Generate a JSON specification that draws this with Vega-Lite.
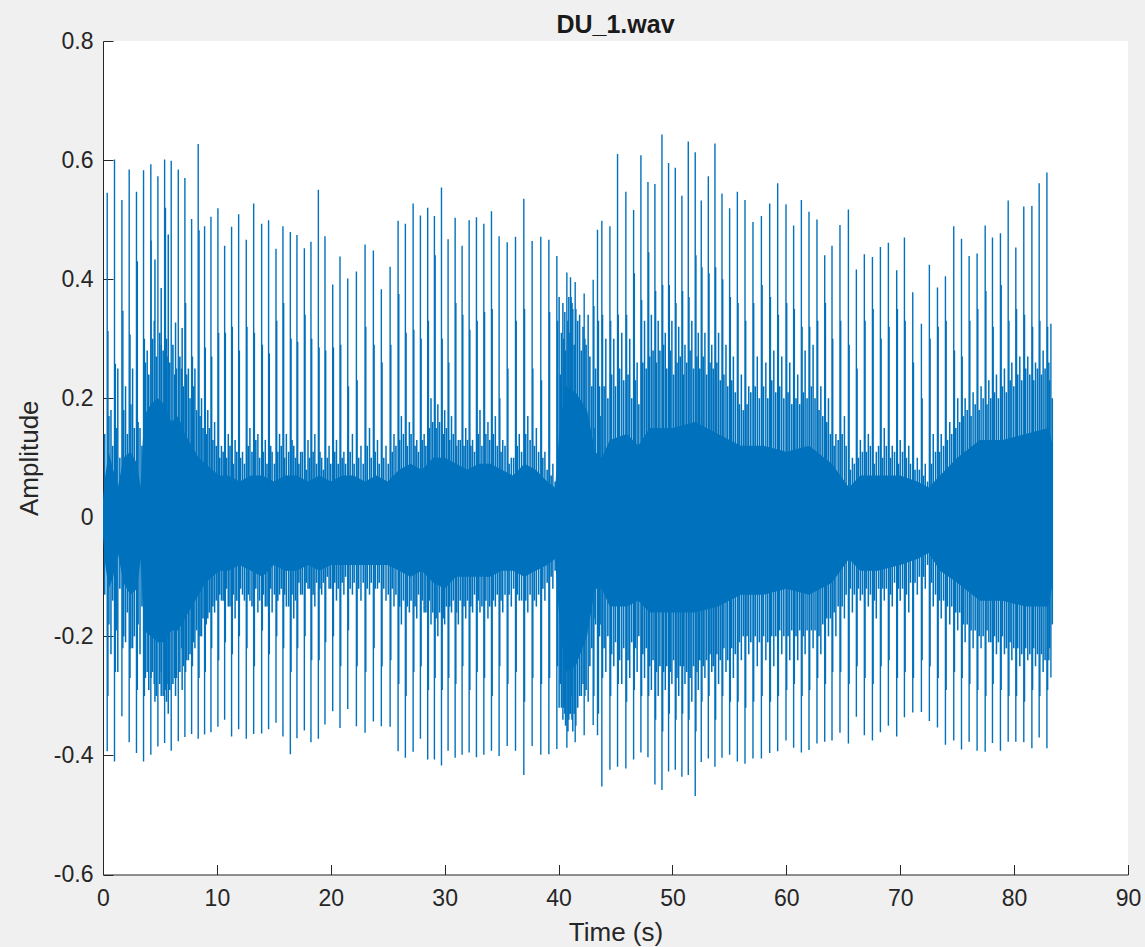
{"$schema":"https://vega.github.io/schema/vega-lite/v6.json","width":1025,"height":833.5,"autosize":"none","padding":{"left":103,"top":41,"right":17,"bottom":72.5},"background":"#f0f0f0","title":{"text":"DU_1.wav","font":"Liberation Sans","fontSize":25,"fontWeight":"bold","color":"#1a1a1a","anchor":"middle","offset":-8},"view":{"fill":"white","stroke":null},"config":{"axis":{"domainColor":"#262626","tickColor":"#262626","labelColor":"#262626","titleColor":"#262626","labelFont":"Liberation Sans","titleFont":"Liberation Sans","labelFontSize":23,"titleFontSize":26,"titleFontWeight":"normal","grid":false,"tickSize":-10,"domainWidth":1,"tickWidth":1,"labelFlush":false}},"datasets":{"beats":[{"t":0.37,"hi":0.545,"lo":-0.393},{"t":1.01,"hi":0.601,"lo":-0.41},{"t":1.66,"hi":0.533,"lo":-0.334},{"t":2.3,"hi":0.584,"lo":-0.378},{"t":2.94,"hi":0.547,"lo":-0.396},{"t":3.56,"hi":0.583,"lo":-0.41},{"t":4.2,"hi":0.593,"lo":-0.399},{"t":4.82,"hi":0.573,"lo":-0.385},{"t":5.41,"hi":0.601,"lo":-0.379},{"t":5.99,"hi":0.599,"lo":-0.392},{"t":6.61,"hi":0.584,"lo":-0.376},{"t":7.19,"hi":0.57,"lo":-0.369},{"t":7.78,"hi":0.501,"lo":-0.364},{"t":8.36,"hi":0.627,"lo":-0.372},{"t":8.92,"hi":0.489,"lo":-0.365},{"t":9.48,"hi":0.505,"lo":-0.361},{"t":10.09,"hi":0.519,"lo":-0.352},{"t":10.68,"hi":0.456,"lo":-0.34},{"t":11.29,"hi":0.488,"lo":-0.368},{"t":11.91,"hi":0.509,"lo":-0.356},{"t":12.58,"hi":0.466,"lo":-0.372},{"t":13.23,"hi":0.527,"lo":-0.364},{"t":13.93,"hi":0.493,"lo":-0.363},{"t":14.54,"hi":0.499,"lo":-0.356},{"t":15.19,"hi":0.451,"lo":-0.345},{"t":15.8,"hi":0.489,"lo":-0.368},{"t":16.45,"hi":0.479,"lo":-0.398},{"t":17.03,"hi":0.474,"lo":-0.371},{"t":17.68,"hi":0.452,"lo":-0.358},{"t":18.26,"hi":0.463,"lo":-0.378},{"t":18.91,"hi":0.55,"lo":-0.372},{"t":19.49,"hi":0.472,"lo":-0.348},{"t":20.17,"hi":0.391,"lo":-0.326},{"t":20.81,"hi":0.438,"lo":-0.354},{"t":21.49,"hi":0.401,"lo":-0.322},{"t":22.25,"hi":0.413,"lo":-0.351},{"t":23.01,"hi":0.458,"lo":-0.362},{"t":23.74,"hi":0.448,"lo":-0.343},{"t":24.44,"hi":0.383,"lo":-0.351},{"t":25.21,"hi":0.421,"lo":-0.352},{"t":25.91,"hi":0.498,"lo":-0.393},{"t":26.55,"hi":0.493,"lo":-0.404},{"t":27.23,"hi":0.527,"lo":-0.394},{"t":27.87,"hi":0.507,"lo":-0.372},{"t":28.51,"hi":0.52,"lo":-0.407},{"t":29.1,"hi":0.506,"lo":-0.407},{"t":29.72,"hi":0.554,"lo":-0.417},{"t":30.3,"hi":0.467,"lo":-0.392},{"t":30.92,"hi":0.503,"lo":-0.404},{"t":31.53,"hi":0.456,"lo":-0.399},{"t":32.15,"hi":0.499,"lo":-0.395},{"t":32.79,"hi":0.504,"lo":-0.403},{"t":33.44,"hi":0.493,"lo":-0.399},{"t":34.11,"hi":0.514,"lo":-0.392},{"t":34.78,"hi":0.472,"lo":-0.401},{"t":35.49,"hi":0.462,"lo":-0.384},{"t":36.22,"hi":0.471,"lo":-0.392},{"t":36.95,"hi":0.535,"lo":-0.433},{"t":37.68,"hi":0.464,"lo":-0.384},{"t":38.44,"hi":0.471,"lo":-0.399},{"t":39.15,"hi":0.466,"lo":-0.398},{"t":39.85,"hi":0.439,"lo":-0.389},{"t":40.73,"hi":0.411,"lo":-0.387},{"t":41.05,"hi":0.403,"lo":-0.33},{"t":41.46,"hi":0.395,"lo":-0.378},{"t":42.25,"hi":0.376,"lo":-0.366},{"t":43.04,"hi":0.399,"lo":-0.349},{"t":43.42,"hi":0.483,"lo":-0.366},{"t":43.8,"hi":0.498,"lo":-0.452},{"t":44.51,"hi":0.489,"lo":-0.424},{"t":45.18,"hi":0.61,"lo":-0.419},{"t":45.91,"hi":0.547,"lo":-0.422},{"t":46.59,"hi":0.516,"lo":-0.407},{"t":47.23,"hi":0.608,"lo":-0.395},{"t":47.85,"hi":0.563,"lo":-0.403},{"t":48.46,"hi":0.56,"lo":-0.449},{"t":49.08,"hi":0.643,"lo":-0.458},{"t":49.66,"hi":0.595,"lo":-0.427},{"t":50.25,"hi":0.587,"lo":-0.424},{"t":50.83,"hi":0.54,"lo":-0.436},{"t":51.39,"hi":0.631,"lo":-0.433},{"t":52.0,"hi":0.613,"lo":-0.468},{"t":52.53,"hi":0.532,"lo":-0.411},{"t":53.15,"hi":0.573,"lo":-0.405},{"t":53.73,"hi":0.628,"lo":-0.419},{"t":54.35,"hi":0.544,"lo":-0.404},{"t":55.02,"hi":0.519,"lo":-0.399},{"t":55.7,"hi":0.547,"lo":-0.41},{"t":56.37,"hi":0.533,"lo":-0.414},{"t":57.07,"hi":0.496,"lo":-0.405},{"t":57.81,"hi":0.506,"lo":-0.405},{"t":58.54,"hi":0.527,"lo":-0.396},{"t":59.24,"hi":0.561,"lo":-0.393},{"t":59.97,"hi":0.526,"lo":-0.375},{"t":60.64,"hi":0.49,"lo":-0.387},{"t":61.32,"hi":0.533,"lo":-0.395},{"t":61.99,"hi":0.513,"lo":-0.391},{"t":62.69,"hi":0.5,"lo":-0.38},{"t":63.37,"hi":0.44,"lo":-0.377},{"t":64.01,"hi":0.456,"lo":-0.375},{"t":64.71,"hi":0.491,"lo":-0.362},{"t":65.45,"hi":0.517,"lo":-0.38},{"t":66.15,"hi":0.416,"lo":-0.335},{"t":66.85,"hi":0.442,"lo":-0.366},{"t":67.56,"hi":0.437,"lo":-0.375},{"t":68.26,"hi":0.454,"lo":-0.361},{"t":68.96,"hi":0.461,"lo":-0.35},{"t":69.69,"hi":0.415,"lo":-0.368},{"t":70.37,"hi":0.47,"lo":-0.336},{"t":71.1,"hi":0.378,"lo":-0.328},{"t":71.86,"hi":0.325,"lo":-0.327},{"t":72.56,"hi":0.424,"lo":-0.342},{"t":73.27,"hi":0.386,"lo":-0.353},{"t":73.97,"hi":0.405,"lo":-0.382},{"t":74.7,"hi":0.489,"lo":-0.375},{"t":75.38,"hi":0.468,"lo":-0.39},{"t":76.05,"hi":0.439,"lo":-0.377},{"t":76.75,"hi":0.443,"lo":-0.392},{"t":77.46,"hi":0.49,"lo":-0.394},{"t":78.1,"hi":0.47,"lo":-0.379},{"t":78.8,"hi":0.477,"lo":-0.392},{"t":79.48,"hi":0.532,"lo":-0.377},{"t":80.15,"hi":0.453,"lo":-0.377},{"t":80.85,"hi":0.522,"lo":-0.378},{"t":81.56,"hi":0.523,"lo":-0.388},{"t":82.2,"hi":0.561,"lo":-0.37},{"t":82.88,"hi":0.579,"lo":-0.388},{"t":83.23,"hi":0.325,"lo":-0.269}],"second":[{"t":0.43,"hi":0.313,"lo":-0.3},{"t":1.08,"hi":0.258,"lo":-0.26},{"t":1.74,"hi":0.347,"lo":-0.22},{"t":2.37,"hi":0.307,"lo":-0.27},{"t":3.01,"hi":0.43,"lo":-0.29},{"t":3.63,"hi":0.3,"lo":-0.3},{"t":4.22,"hi":0.465,"lo":-0.27},{"t":4.56,"hi":0.433,"lo":-0.31},{"t":5.11,"hi":0.385,"lo":-0.3},{"t":5.48,"hi":0.52,"lo":-0.29},{"t":5.73,"hi":0.475,"lo":-0.33},{"t":6.37,"hi":0.327,"lo":-0.3},{"t":6.95,"hi":0.318,"lo":-0.29},{"t":7.25,"hi":0.36,"lo":-0.26},{"t":7.85,"hi":0.27,"lo":-0.25},{"t":8.43,"hi":0.482,"lo":-0.27},{"t":8.98,"hi":0.285,"lo":-0.26},{"t":9.54,"hi":0.27,"lo":-0.22},{"t":10.15,"hi":0.31,"lo":-0.24},{"t":10.74,"hi":0.31,"lo":-0.21},{"t":11.35,"hi":0.32,"lo":-0.23},{"t":11.97,"hi":0.28,"lo":-0.2},{"t":12.64,"hi":0.32,"lo":-0.22},{"t":13.29,"hi":0.31,"lo":-0.25},{"t":13.99,"hi":0.29,"lo":-0.19},{"t":14.6,"hi":0.275,"lo":-0.23},{"t":15.25,"hi":0.33,"lo":-0.2},{"t":15.86,"hi":0.36,"lo":-0.22},{"t":16.51,"hi":0.3,"lo":-0.26},{"t":17.09,"hi":0.295,"lo":-0.22},{"t":17.74,"hi":0.34,"lo":-0.2},{"t":18.32,"hi":0.3,"lo":-0.24},{"t":18.97,"hi":0.285,"lo":-0.24},{"t":19.55,"hi":0.28,"lo":-0.21},{"t":20.23,"hi":0.285,"lo":-0.2},{"t":20.87,"hi":0.29,"lo":-0.25},{"t":21.55,"hi":0.22,"lo":-0.19},{"t":22.31,"hi":0.23,"lo":-0.25},{"t":23.07,"hi":0.32,"lo":-0.26},{"t":23.8,"hi":0.29,"lo":-0.22},{"t":24.5,"hi":0.26,"lo":-0.25},{"t":25.27,"hi":0.29,"lo":-0.24},{"t":25.97,"hi":0.375,"lo":-0.28},{"t":26.61,"hi":0.31,"lo":-0.3},{"t":27.29,"hi":0.315,"lo":-0.26},{"t":27.93,"hi":0.3,"lo":-0.25},{"t":28.57,"hi":0.33,"lo":-0.29},{"t":29.16,"hi":0.44,"lo":-0.27},{"t":29.78,"hi":0.3,"lo":-0.29},{"t":30.36,"hi":0.26,"lo":-0.27},{"t":30.98,"hi":0.36,"lo":-0.28},{"t":31.59,"hi":0.34,"lo":-0.25},{"t":32.21,"hi":0.315,"lo":-0.29},{"t":32.85,"hi":0.33,"lo":-0.26},{"t":33.5,"hi":0.345,"lo":-0.27},{"t":34.17,"hi":0.35,"lo":-0.3},{"t":34.84,"hi":0.2,"lo":-0.25},{"t":35.55,"hi":0.25,"lo":-0.28},{"t":36.28,"hi":0.33,"lo":-0.26},{"t":37.01,"hi":0.35,"lo":-0.31},{"t":37.74,"hi":0.25,"lo":-0.27},{"t":38.5,"hi":0.23,"lo":-0.28},{"t":39.21,"hi":0.345,"lo":-0.27},{"t":39.91,"hi":0.33,"lo":-0.25},{"t":40.05,"hi":0.37,"lo":-0.32},{"t":40.38,"hi":0.36,"lo":-0.34},{"t":41.1,"hi":0.37,"lo":-0.3},{"t":41.52,"hi":0.35,"lo":-0.35},{"t":42.31,"hi":0.3,"lo":-0.3},{"t":43.1,"hi":0.355,"lo":-0.3},{"t":43.5,"hi":0.33,"lo":-0.33},{"t":43.86,"hi":0.34,"lo":-0.27},{"t":44.57,"hi":0.33,"lo":-0.3},{"t":45.24,"hi":0.34,"lo":-0.28},{"t":45.97,"hi":0.34,"lo":-0.31},{"t":46.65,"hi":0.41,"lo":-0.29},{"t":47.29,"hi":0.365,"lo":-0.3},{"t":47.91,"hi":0.445,"lo":-0.3},{"t":48.52,"hi":0.38,"lo":-0.34},{"t":49.14,"hi":0.39,"lo":-0.36},{"t":49.72,"hi":0.39,"lo":-0.33},{"t":50.31,"hi":0.36,"lo":-0.34},{"t":50.89,"hi":0.38,"lo":-0.33},{"t":51.45,"hi":0.37,"lo":-0.34},{"t":52.06,"hi":0.44,"lo":-0.36},{"t":52.59,"hi":0.42,"lo":-0.31},{"t":53.21,"hi":0.41,"lo":-0.3},{"t":53.79,"hi":0.42,"lo":-0.34},{"t":54.41,"hi":0.4,"lo":-0.3},{"t":55.08,"hi":0.37,"lo":-0.31},{"t":55.76,"hi":0.36,"lo":-0.31},{"t":56.43,"hi":0.33,"lo":-0.32},{"t":57.13,"hi":0.36,"lo":-0.31},{"t":57.87,"hi":0.39,"lo":-0.3},{"t":58.6,"hi":0.37,"lo":-0.31},{"t":59.3,"hi":0.34,"lo":-0.3},{"t":60.03,"hi":0.36,"lo":-0.29},{"t":60.7,"hi":0.35,"lo":-0.28},{"t":61.38,"hi":0.32,"lo":-0.3},{"t":62.05,"hi":0.32,"lo":-0.29},{"t":62.75,"hi":0.33,"lo":-0.27},{"t":63.43,"hi":0.36,"lo":-0.28},{"t":64.07,"hi":0.3,"lo":-0.26},{"t":64.77,"hi":0.33,"lo":-0.26},{"t":65.51,"hi":0.29,"lo":-0.28},{"t":66.21,"hi":0.25,"lo":-0.25},{"t":66.91,"hi":0.33,"lo":-0.27},{"t":67.62,"hi":0.35,"lo":-0.28},{"t":68.32,"hi":0.3,"lo":-0.25},{"t":69.02,"hi":0.32,"lo":-0.24},{"t":69.75,"hi":0.35,"lo":-0.27},{"t":70.43,"hi":0.33,"lo":-0.26},{"t":71.16,"hi":0.26,"lo":-0.27},{"t":71.92,"hi":0.2,"lo":-0.24},{"t":72.62,"hi":0.3,"lo":-0.25},{"t":73.33,"hi":0.32,"lo":-0.27},{"t":74.03,"hi":0.33,"lo":-0.29},{"t":74.76,"hi":0.28,"lo":-0.26},{"t":75.44,"hi":0.27,"lo":-0.27},{"t":76.11,"hi":0.33,"lo":-0.28},{"t":76.81,"hi":0.35,"lo":-0.29},{"t":77.52,"hi":0.38,"lo":-0.3},{"t":78.16,"hi":0.32,"lo":-0.28},{"t":78.86,"hi":0.39,"lo":-0.29},{"t":79.54,"hi":0.33,"lo":-0.3},{"t":80.21,"hi":0.35,"lo":-0.3},{"t":80.91,"hi":0.34,"lo":-0.31},{"t":81.62,"hi":0.32,"lo":-0.29},{"t":82.26,"hi":0.33,"lo":-0.3},{"t":82.94,"hi":0.32,"lo":-0.29}],"mid":[{"t":0.7,"hi":0.18,"lo":-0.23},{"t":1.3,"hi":0.25,"lo":-0.26},{"t":1.98,"hi":0.22,"lo":-0.21},{"t":2.6,"hi":0.25,"lo":-0.22},{"t":3.25,"hi":0.15,"lo":-0.23},{"t":3.88,"hi":0.28,"lo":-0.26},{"t":4.5,"hi":0.33,"lo":-0.28},{"t":5.12,"hi":0.29,"lo":-0.26},{"t":5.7,"hi":0.27,"lo":-0.28},{"t":6.3,"hi":0.24,"lo":-0.27},{"t":6.9,"hi":0.25,"lo":-0.22},{"t":7.5,"hi":0.25,"lo":-0.24},{"t":8.07,"hi":0.25,"lo":-0.22},{"t":8.65,"hi":0.2,"lo":-0.2},{"t":9.2,"hi":0.18,"lo":-0.17},{"t":9.8,"hi":0.16,"lo":-0.16},{"t":10.4,"hi":0.12,"lo":-0.14},{"t":11.0,"hi":0.14,"lo":-0.15},{"t":11.6,"hi":0.13,"lo":-0.17},{"t":12.25,"hi":0.11,"lo":-0.13},{"t":12.9,"hi":0.15,"lo":-0.14},{"t":13.6,"hi":0.14,"lo":-0.16},{"t":14.25,"hi":0.13,"lo":-0.15},{"t":14.85,"hi":0.11,"lo":-0.16},{"t":15.5,"hi":0.14,"lo":-0.13},{"t":16.1,"hi":0.14,"lo":-0.15},{"t":16.75,"hi":0.12,"lo":-0.17},{"t":17.35,"hi":0.11,"lo":-0.13},{"t":18.0,"hi":0.13,"lo":-0.12},{"t":18.6,"hi":0.14,"lo":-0.15},{"t":19.2,"hi":0.1,"lo":-0.13},{"t":19.85,"hi":0.12,"lo":-0.12},{"t":20.5,"hi":0.13,"lo":-0.14},{"t":21.15,"hi":0.11,"lo":-0.13},{"t":21.9,"hi":0.14,"lo":-0.13},{"t":22.65,"hi":0.12,"lo":-0.14},{"t":23.4,"hi":0.15,"lo":-0.13},{"t":24.1,"hi":0.13,"lo":-0.12},{"t":24.85,"hi":0.12,"lo":-0.14},{"t":25.55,"hi":0.14,"lo":-0.15},{"t":26.2,"hi":0.17,"lo":-0.18},{"t":26.9,"hi":0.16,"lo":-0.16},{"t":27.55,"hi":0.13,"lo":-0.17},{"t":28.2,"hi":0.14,"lo":-0.16},{"t":28.8,"hi":0.2,"lo":-0.18},{"t":29.4,"hi":0.19,"lo":-0.2},{"t":30.0,"hi":0.18,"lo":-0.18},{"t":30.6,"hi":0.17,"lo":-0.16},{"t":31.2,"hi":0.13,"lo":-0.18},{"t":31.85,"hi":0.15,"lo":-0.17},{"t":32.45,"hi":0.13,"lo":-0.16},{"t":33.1,"hi":0.18,"lo":-0.16},{"t":33.8,"hi":0.16,"lo":-0.17},{"t":34.45,"hi":0.17,"lo":-0.15},{"t":35.1,"hi":0.13,"lo":-0.16},{"t":35.85,"hi":0.1,"lo":-0.15},{"t":36.55,"hi":0.14,"lo":-0.14},{"t":37.3,"hi":0.17,"lo":-0.16},{"t":38.05,"hi":0.15,"lo":-0.15},{"t":38.8,"hi":0.11,"lo":-0.14},{"t":39.5,"hi":0.09,"lo":-0.12},{"t":40.25,"hi":0.31,"lo":-0.32},{"t":40.55,"hi":0.345,"lo":-0.33},{"t":40.9,"hi":0.37,"lo":-0.34},{"t":41.25,"hi":0.35,"lo":-0.36},{"t":41.85,"hi":0.34,"lo":-0.3},{"t":42.6,"hi":0.34,"lo":-0.31},{"t":43.25,"hi":0.25,"lo":-0.18},{"t":43.6,"hi":0.22,"lo":-0.2},{"t":44.15,"hi":0.3,"lo":-0.26},{"t":44.85,"hi":0.3,"lo":-0.25},{"t":45.55,"hi":0.31,"lo":-0.28},{"t":46.25,"hi":0.3,"lo":-0.27},{"t":46.9,"hi":0.26,"lo":-0.26},{"t":47.55,"hi":0.33,"lo":-0.27},{"t":48.15,"hi":0.34,"lo":-0.29},{"t":48.75,"hi":0.33,"lo":-0.3},{"t":49.37,"hi":0.31,"lo":-0.29},{"t":49.95,"hi":0.33,"lo":-0.28},{"t":50.55,"hi":0.32,"lo":-0.3},{"t":51.1,"hi":0.29,"lo":-0.28},{"t":51.7,"hi":0.33,"lo":-0.31},{"t":52.27,"hi":0.31,"lo":-0.29},{"t":52.85,"hi":0.31,"lo":-0.27},{"t":53.45,"hi":0.29,"lo":-0.26},{"t":54.05,"hi":0.31,"lo":-0.28},{"t":54.7,"hi":0.29,"lo":-0.26},{"t":55.35,"hi":0.27,"lo":-0.27},{"t":56.05,"hi":0.24,"lo":-0.24},{"t":56.7,"hi":0.22,"lo":-0.23},{"t":57.45,"hi":0.27,"lo":-0.25},{"t":58.2,"hi":0.26,"lo":-0.24},{"t":58.9,"hi":0.28,"lo":-0.25},{"t":59.6,"hi":0.27,"lo":-0.23},{"t":60.3,"hi":0.26,"lo":-0.24},{"t":61.0,"hi":0.24,"lo":-0.24},{"t":61.65,"hi":0.28,"lo":-0.23},{"t":62.35,"hi":0.29,"lo":-0.22},{"t":63.03,"hi":0.22,"lo":-0.23},{"t":63.7,"hi":0.2,"lo":-0.2},{"t":64.35,"hi":0.14,"lo":-0.2},{"t":65.1,"hi":0.17,"lo":-0.17},{"t":65.8,"hi":0.1,"lo":-0.16},{"t":66.5,"hi":0.13,"lo":-0.14},{"t":67.2,"hi":0.14,"lo":-0.15},{"t":67.9,"hi":0.11,"lo":-0.17},{"t":68.6,"hi":0.15,"lo":-0.14},{"t":69.3,"hi":0.12,"lo":-0.15},{"t":70.0,"hi":0.13,"lo":-0.14},{"t":70.75,"hi":0.12,"lo":-0.16},{"t":71.5,"hi":0.1,"lo":-0.13},{"t":72.2,"hi":0.09,"lo":-0.12},{"t":72.9,"hi":0.14,"lo":-0.15},{"t":73.6,"hi":0.14,"lo":-0.17},{"t":74.35,"hi":0.16,"lo":-0.18},{"t":75.05,"hi":0.2,"lo":-0.19},{"t":75.7,"hi":0.2,"lo":-0.21},{"t":76.4,"hi":0.21,"lo":-0.22},{"t":77.1,"hi":0.22,"lo":-0.22},{"t":77.78,"hi":0.23,"lo":-0.21},{"t":78.45,"hi":0.24,"lo":-0.23},{"t":79.15,"hi":0.25,"lo":-0.23},{"t":79.8,"hi":0.26,"lo":-0.24},{"t":80.5,"hi":0.27,"lo":-0.25},{"t":81.2,"hi":0.27,"lo":-0.24},{"t":81.88,"hi":0.26,"lo":-0.25},{"t":82.55,"hi":0.28,"lo":-0.26},{"t":83.05,"hi":0.26,"lo":-0.24}],"teeth":[{"t":0.15,"hi":0.14,"lo":-0.13},{"t":0.52,"hi":0.17,"lo":-0.18},{"t":0.85,"hi":0.12,"lo":-0.14},{"t":1.17,"hi":0.15,"lo":-0.19},{"t":1.48,"hi":0.1,"lo":-0.12},{"t":1.82,"hi":0.18,"lo":-0.2},{"t":2.14,"hi":0.14,"lo":-0.16},{"t":2.45,"hi":0.19,"lo":-0.22},{"t":2.75,"hi":0.15,"lo":-0.2},{"t":3.08,"hi":0.16,"lo":-0.18},{"t":3.42,"hi":0.12,"lo":-0.15},{"t":3.72,"hi":0.26,"lo":-0.27},{"t":4.02,"hi":0.24,"lo":-0.29},{"t":4.35,"hi":0.3,"lo":-0.26},{"t":4.68,"hi":0.27,"lo":-0.3},{"t":4.98,"hi":0.31,"lo":-0.28},{"t":5.28,"hi":0.28,"lo":-0.3},{"t":5.58,"hi":0.3,"lo":-0.31},{"t":5.86,"hi":0.26,"lo":-0.29},{"t":6.14,"hi":0.29,"lo":-0.28},{"t":6.45,"hi":0.25,"lo":-0.27},{"t":6.75,"hi":0.27,"lo":-0.26},{"t":7.05,"hi":0.22,"lo":-0.25},{"t":7.35,"hi":0.24,"lo":-0.24},{"t":7.64,"hi":0.2,"lo":-0.23},{"t":7.95,"hi":0.22,"lo":-0.21},{"t":8.22,"hi":0.18,"lo":-0.19},{"t":8.52,"hi":0.17,"lo":-0.2},{"t":8.78,"hi":0.15,"lo":-0.17},{"t":9.06,"hi":0.14,"lo":-0.18},{"t":9.34,"hi":0.15,"lo":-0.16},{"t":9.65,"hi":0.13,"lo":-0.15},{"t":9.95,"hi":0.12,"lo":-0.14},{"t":10.25,"hi":0.1,"lo":-0.13},{"t":10.55,"hi":0.11,"lo":-0.14},{"t":10.85,"hi":0.1,"lo":-0.12},{"t":11.15,"hi":0.12,"lo":-0.15},{"t":11.45,"hi":0.09,"lo":-0.13},{"t":11.75,"hi":0.11,"lo":-0.14},{"t":12.08,"hi":0.1,"lo":-0.12},{"t":12.42,"hi":0.09,"lo":-0.14},{"t":12.75,"hi":0.12,"lo":-0.13},{"t":13.08,"hi":0.11,"lo":-0.15},{"t":13.42,"hi":0.13,"lo":-0.12},{"t":13.75,"hi":0.1,"lo":-0.14},{"t":14.08,"hi":0.11,"lo":-0.13},{"t":14.4,"hi":0.09,"lo":-0.15},{"t":14.72,"hi":0.12,"lo":-0.12},{"t":15.05,"hi":0.09,"lo":-0.13},{"t":15.35,"hi":0.11,"lo":-0.14},{"t":15.65,"hi":0.12,"lo":-0.12},{"t":15.95,"hi":0.1,"lo":-0.13},{"t":16.3,"hi":0.11,"lo":-0.15},{"t":16.6,"hi":0.13,"lo":-0.13},{"t":16.9,"hi":0.1,"lo":-0.14},{"t":17.2,"hi":0.09,"lo":-0.11},{"t":17.5,"hi":0.11,"lo":-0.13},{"t":17.85,"hi":0.08,"lo":-0.11},{"t":18.13,"hi":0.1,"lo":-0.12},{"t":18.45,"hi":0.11,"lo":-0.13},{"t":18.75,"hi":0.09,"lo":-0.11},{"t":19.05,"hi":0.11,"lo":-0.12},{"t":19.35,"hi":0.08,"lo":-0.11},{"t":19.7,"hi":0.1,"lo":-0.1},{"t":20.0,"hi":0.09,"lo":-0.12},{"t":20.35,"hi":0.11,"lo":-0.11},{"t":20.65,"hi":0.09,"lo":-0.12},{"t":21.0,"hi":0.1,"lo":-0.11},{"t":21.3,"hi":0.09,"lo":-0.1},{"t":21.7,"hi":0.11,"lo":-0.12},{"t":22.05,"hi":0.09,"lo":-0.11},{"t":22.45,"hi":0.1,"lo":-0.12},{"t":22.85,"hi":0.09,"lo":-0.11},{"t":23.2,"hi":0.12,"lo":-0.12},{"t":23.55,"hi":0.1,"lo":-0.11},{"t":23.9,"hi":0.11,"lo":-0.12},{"t":24.25,"hi":0.09,"lo":-0.11},{"t":24.65,"hi":0.1,"lo":-0.12},{"t":25.05,"hi":0.09,"lo":-0.13},{"t":25.4,"hi":0.11,"lo":-0.12},{"t":25.72,"hi":0.12,"lo":-0.13},{"t":26.05,"hi":0.13,"lo":-0.15},{"t":26.38,"hi":0.14,"lo":-0.14},{"t":26.72,"hi":0.12,"lo":-0.15},{"t":27.05,"hi":0.14,"lo":-0.14},{"t":27.4,"hi":0.12,"lo":-0.15},{"t":27.7,"hi":0.11,"lo":-0.13},{"t":28.05,"hi":0.13,"lo":-0.14},{"t":28.35,"hi":0.12,"lo":-0.16},{"t":28.65,"hi":0.15,"lo":-0.14},{"t":28.95,"hi":0.16,"lo":-0.16},{"t":29.25,"hi":0.15,"lo":-0.17},{"t":29.55,"hi":0.16,"lo":-0.16},{"t":29.88,"hi":0.14,"lo":-0.17},{"t":30.15,"hi":0.15,"lo":-0.15},{"t":30.45,"hi":0.13,"lo":-0.15},{"t":30.76,"hi":0.14,"lo":-0.14},{"t":31.05,"hi":0.12,"lo":-0.16},{"t":31.37,"hi":0.13,"lo":-0.14},{"t":31.7,"hi":0.12,"lo":-0.15},{"t":32.0,"hi":0.13,"lo":-0.14},{"t":32.3,"hi":0.12,"lo":-0.15},{"t":32.62,"hi":0.11,"lo":-0.13},{"t":32.95,"hi":0.14,"lo":-0.14},{"t":33.27,"hi":0.12,"lo":-0.15},{"t":33.62,"hi":0.14,"lo":-0.14},{"t":33.95,"hi":0.13,"lo":-0.15},{"t":34.28,"hi":0.14,"lo":-0.14},{"t":34.62,"hi":0.12,"lo":-0.13},{"t":34.95,"hi":0.11,"lo":-0.14},{"t":35.3,"hi":0.12,"lo":-0.13},{"t":35.66,"hi":0.09,"lo":-0.13},{"t":36.05,"hi":0.1,"lo":-0.12},{"t":36.38,"hi":0.12,"lo":-0.13},{"t":36.75,"hi":0.11,"lo":-0.14},{"t":37.12,"hi":0.14,"lo":-0.14},{"t":37.5,"hi":0.13,"lo":-0.13},{"t":37.88,"hi":0.12,"lo":-0.14},{"t":38.25,"hi":0.11,"lo":-0.13},{"t":38.62,"hi":0.1,"lo":-0.12},{"t":39.0,"hi":0.08,"lo":-0.11},{"t":39.35,"hi":0.07,"lo":-0.1},{"t":39.7,"hi":0.06,"lo":-0.09},{"t":40.15,"hi":0.24,"lo":-0.28},{"t":40.45,"hi":0.3,"lo":-0.32},{"t":40.62,"hi":0.28,"lo":-0.35},{"t":40.82,"hi":0.33,"lo":-0.36},{"t":41.0,"hi":0.31,"lo":-0.33},{"t":41.18,"hi":0.36,"lo":-0.34},{"t":41.37,"hi":0.29,"lo":-0.33},{"t":41.68,"hi":0.33,"lo":-0.32},{"t":42.0,"hi":0.28,"lo":-0.3},{"t":42.15,"hi":0.32,"lo":-0.28},{"t":42.42,"hi":0.29,"lo":-0.29},{"t":42.75,"hi":0.27,"lo":-0.25},{"t":42.92,"hi":0.22,"lo":-0.22},{"t":43.2,"hi":0.15,"lo":-0.17},{"t":43.65,"hi":0.17,"lo":-0.18},{"t":44.0,"hi":0.22,"lo":-0.22},{"t":44.33,"hi":0.2,"lo":-0.2},{"t":44.66,"hi":0.24,"lo":-0.23},{"t":45.0,"hi":0.22,"lo":-0.21},{"t":45.36,"hi":0.25,"lo":-0.24},{"t":45.72,"hi":0.23,"lo":-0.22},{"t":46.1,"hi":0.24,"lo":-0.24},{"t":46.42,"hi":0.2,"lo":-0.21},{"t":46.75,"hi":0.23,"lo":-0.22},{"t":47.05,"hi":0.19,"lo":-0.2},{"t":47.4,"hi":0.26,"lo":-0.23},{"t":47.7,"hi":0.25,"lo":-0.22},{"t":48.0,"hi":0.27,"lo":-0.25},{"t":48.3,"hi":0.28,"lo":-0.24},{"t":48.6,"hi":0.26,"lo":-0.26},{"t":48.9,"hi":0.28,"lo":-0.25},{"t":49.22,"hi":0.29,"lo":-0.26},{"t":49.5,"hi":0.25,"lo":-0.25},{"t":49.8,"hi":0.28,"lo":-0.26},{"t":50.1,"hi":0.24,"lo":-0.24},{"t":50.4,"hi":0.26,"lo":-0.27},{"t":50.68,"hi":0.27,"lo":-0.25},{"t":50.97,"hi":0.24,"lo":-0.25},{"t":51.25,"hi":0.26,"lo":-0.26},{"t":51.55,"hi":0.28,"lo":-0.27},{"t":51.85,"hi":0.25,"lo":-0.25},{"t":52.15,"hi":0.27,"lo":-0.26},{"t":52.4,"hi":0.25,"lo":-0.24},{"t":52.7,"hi":0.27,"lo":-0.25},{"t":53.0,"hi":0.24,"lo":-0.24},{"t":53.3,"hi":0.26,"lo":-0.23},{"t":53.58,"hi":0.25,"lo":-0.25},{"t":53.9,"hi":0.26,"lo":-0.23},{"t":54.2,"hi":0.23,"lo":-0.24},{"t":54.52,"hi":0.24,"lo":-0.22},{"t":54.85,"hi":0.22,"lo":-0.24},{"t":55.2,"hi":0.23,"lo":-0.22},{"t":55.52,"hi":0.21,"lo":-0.23},{"t":55.88,"hi":0.19,"lo":-0.21},{"t":56.22,"hi":0.18,"lo":-0.2},{"t":56.55,"hi":0.19,"lo":-0.2},{"t":56.88,"hi":0.21,"lo":-0.21},{"t":57.27,"hi":0.22,"lo":-0.2},{"t":57.63,"hi":0.2,"lo":-0.21},{"t":58.0,"hi":0.22,"lo":-0.2},{"t":58.37,"hi":0.2,"lo":-0.21},{"t":58.72,"hi":0.23,"lo":-0.2},{"t":59.07,"hi":0.21,"lo":-0.2},{"t":59.42,"hi":0.22,"lo":-0.19},{"t":59.78,"hi":0.2,"lo":-0.2},{"t":60.15,"hi":0.21,"lo":-0.2},{"t":60.48,"hi":0.19,"lo":-0.19},{"t":60.85,"hi":0.2,"lo":-0.2},{"t":61.17,"hi":0.19,"lo":-0.19},{"t":61.5,"hi":0.21,"lo":-0.2},{"t":61.82,"hi":0.2,"lo":-0.19},{"t":62.2,"hi":0.22,"lo":-0.19},{"t":62.52,"hi":0.2,"lo":-0.19},{"t":62.87,"hi":0.18,"lo":-0.2},{"t":63.2,"hi":0.17,"lo":-0.18},{"t":63.55,"hi":0.16,"lo":-0.17},{"t":63.87,"hi":0.14,"lo":-0.17},{"t":64.2,"hi":0.12,"lo":-0.16},{"t":64.55,"hi":0.13,"lo":-0.15},{"t":64.9,"hi":0.14,"lo":-0.15},{"t":65.25,"hi":0.12,"lo":-0.13},{"t":65.62,"hi":0.08,"lo":-0.12},{"t":65.97,"hi":0.09,"lo":-0.13},{"t":66.33,"hi":0.1,"lo":-0.12},{"t":66.68,"hi":0.11,"lo":-0.13},{"t":67.03,"hi":0.11,"lo":-0.12},{"t":67.38,"hi":0.12,"lo":-0.13},{"t":67.73,"hi":0.09,"lo":-0.14},{"t":68.1,"hi":0.12,"lo":-0.12},{"t":68.45,"hi":0.1,"lo":-0.12},{"t":68.78,"hi":0.12,"lo":-0.12},{"t":69.15,"hi":0.1,"lo":-0.13},{"t":69.5,"hi":0.11,"lo":-0.11},{"t":69.85,"hi":0.09,"lo":-0.12},{"t":70.2,"hi":0.11,"lo":-0.12},{"t":70.55,"hi":0.1,"lo":-0.13},{"t":70.9,"hi":0.09,"lo":-0.11},{"t":71.3,"hi":0.08,"lo":-0.11},{"t":71.68,"hi":0.08,"lo":-0.1},{"t":72.05,"hi":0.07,"lo":-0.1},{"t":72.4,"hi":0.06,"lo":-0.08},{"t":72.75,"hi":0.09,"lo":-0.11},{"t":73.1,"hi":0.11,"lo":-0.13},{"t":73.45,"hi":0.11,"lo":-0.14},{"t":73.8,"hi":0.12,"lo":-0.14},{"t":74.15,"hi":0.13,"lo":-0.15},{"t":74.52,"hi":0.14,"lo":-0.15},{"t":74.88,"hi":0.15,"lo":-0.16},{"t":75.22,"hi":0.16,"lo":-0.16},{"t":75.55,"hi":0.17,"lo":-0.18},{"t":75.88,"hi":0.18,"lo":-0.18},{"t":76.22,"hi":0.17,"lo":-0.19},{"t":76.58,"hi":0.19,"lo":-0.19},{"t":76.93,"hi":0.18,"lo":-0.2},{"t":77.28,"hi":0.2,"lo":-0.2},{"t":77.62,"hi":0.19,"lo":-0.19},{"t":77.95,"hi":0.2,"lo":-0.21},{"t":78.28,"hi":0.21,"lo":-0.2},{"t":78.62,"hi":0.2,"lo":-0.21},{"t":78.97,"hi":0.22,"lo":-0.2},{"t":79.32,"hi":0.21,"lo":-0.22},{"t":79.65,"hi":0.23,"lo":-0.21},{"t":79.97,"hi":0.22,"lo":-0.22},{"t":80.32,"hi":0.24,"lo":-0.22},{"t":80.67,"hi":0.23,"lo":-0.23},{"t":81.02,"hi":0.25,"lo":-0.22},{"t":81.38,"hi":0.24,"lo":-0.23},{"t":81.72,"hi":0.23,"lo":-0.22},{"t":82.05,"hi":0.25,"lo":-0.23},{"t":82.4,"hi":0.24,"lo":-0.23},{"t":82.72,"hi":0.25,"lo":-0.24},{"t":83.12,"hi":0.23,"lo":-0.22},{"t":83.35,"hi":0.2,"lo":-0.18}],"core":[{"t":0,"hi":0.03,"lo":-0.03},{"t":0.2,"hi":0.07,"lo":-0.08},{"t":0.5,"hi":0.11,"lo":-0.12},{"t":0.9,"hi":0.08,"lo":-0.1},{"t":1.3,"hi":0.05,"lo":-0.06},{"t":1.8,"hi":0.1,"lo":-0.11},{"t":2.4,"hi":0.11,"lo":-0.13},{"t":3.0,"hi":0.09,"lo":-0.12},{"t":3.3,"hi":0.05,"lo":-0.07},{"t":3.6,"hi":0.17,"lo":-0.19},{"t":4.2,"hi":0.19,"lo":-0.2},{"t":4.8,"hi":0.2,"lo":-0.21},{"t":5.4,"hi":0.19,"lo":-0.21},{"t":6.0,"hi":0.16,"lo":-0.19},{"t":6.6,"hi":0.17,"lo":-0.19},{"t":7.2,"hi":0.14,"lo":-0.17},{"t":7.8,"hi":0.12,"lo":-0.15},{"t":8.4,"hi":0.1,"lo":-0.13},{"t":9.0,"hi":0.09,"lo":-0.11},{"t":9.6,"hi":0.08,"lo":-0.1},{"t":10.2,"hi":0.07,"lo":-0.09},{"t":11,"hi":0.07,"lo":-0.09},{"t":12,"hi":0.06,"lo":-0.08},{"t":13,"hi":0.07,"lo":-0.09},{"t":14,"hi":0.07,"lo":-0.1},{"t":15,"hi":0.06,"lo":-0.08},{"t":16,"hi":0.07,"lo":-0.09},{"t":17,"hi":0.07,"lo":-0.09},{"t":18,"hi":0.06,"lo":-0.08},{"t":19,"hi":0.07,"lo":-0.09},{"t":20,"hi":0.06,"lo":-0.08},{"t":21,"hi":0.07,"lo":-0.08},{"t":22,"hi":0.07,"lo":-0.08},{"t":23,"hi":0.06,"lo":-0.08},{"t":24,"hi":0.07,"lo":-0.08},{"t":25,"hi":0.06,"lo":-0.08},{"t":26,"hi":0.08,"lo":-0.09},{"t":27,"hi":0.09,"lo":-0.1},{"t":28,"hi":0.08,"lo":-0.09},{"t":29,"hi":0.1,"lo":-0.11},{"t":30,"hi":0.1,"lo":-0.12},{"t":31,"hi":0.09,"lo":-0.1},{"t":32,"hi":0.08,"lo":-0.1},{"t":33,"hi":0.09,"lo":-0.1},{"t":34,"hi":0.09,"lo":-0.1},{"t":35,"hi":0.08,"lo":-0.09},{"t":36,"hi":0.07,"lo":-0.09},{"t":37,"hi":0.09,"lo":-0.1},{"t":38,"hi":0.08,"lo":-0.09},{"t":39,"hi":0.06,"lo":-0.08},{"t":39.7,"hi":0.05,"lo":-0.07},{"t":40.1,"hi":0.15,"lo":-0.18},{"t":40.6,"hi":0.22,"lo":-0.26},{"t":41.5,"hi":0.21,"lo":-0.25},{"t":42.5,"hi":0.18,"lo":-0.2},{"t":43.2,"hi":0.11,"lo":-0.12},{"t":43.8,"hi":0.1,"lo":-0.12},{"t":44.5,"hi":0.13,"lo":-0.15},{"t":46,"hi":0.14,"lo":-0.15},{"t":47,"hi":0.12,"lo":-0.14},{"t":48,"hi":0.15,"lo":-0.16},{"t":50,"hi":0.15,"lo":-0.16},{"t":52,"hi":0.16,"lo":-0.16},{"t":54,"hi":0.14,"lo":-0.15},{"t":56,"hi":0.12,"lo":-0.13},{"t":58,"hi":0.12,"lo":-0.13},{"t":60,"hi":0.11,"lo":-0.12},{"t":62,"hi":0.12,"lo":-0.13},{"t":64,"hi":0.09,"lo":-0.11},{"t":65.5,"hi":0.05,"lo":-0.07},{"t":66.5,"hi":0.07,"lo":-0.09},{"t":68,"hi":0.07,"lo":-0.09},{"t":70,"hi":0.07,"lo":-0.08},{"t":71.5,"hi":0.06,"lo":-0.07},{"t":72.5,"hi":0.05,"lo":-0.06},{"t":73.5,"hi":0.07,"lo":-0.09},{"t":75,"hi":0.1,"lo":-0.11},{"t":77,"hi":0.13,"lo":-0.14},{"t":79,"hi":0.13,"lo":-0.14},{"t":81,"hi":0.14,"lo":-0.15},{"t":83,"hi":0.15,"lo":-0.15},{"t":83.4,"hi":0.12,"lo":-0.11}]},"layer":[{"data":{"name":"core"},"mark":{"type":"area","color":"#0072BD","opacity":1},"encoding":{"x":{"field":"t","type":"quantitative","scale":{"domain":[0,90]},"axis":{"values":[0,10,20,30,40,50,60,70,80,90],"title":"Time (s)","titlePadding":9,"labelPadding":23,"labelOverlap":false}},"y":{"field":"hi","type":"quantitative","scale":{"domain":[-0.6,0.8]},"axis":{"values":[-0.6,-0.4,-0.2,0,0.2,0.4,0.6,0.8],"title":"Amplitude","titlePadding":11,"labelPadding":20,"labelOverlap":false,"labelExpr":"replace(format(datum.value,'.1~f'),'−','-')"}},"y2":{"field":"lo"}}},{"data":{"name":"teeth"},"mark":{"type":"rule","color":"#0072BD","strokeWidth":1.6},"encoding":{"x":{"field":"t","type":"quantitative"},"y":{"field":"hi","type":"quantitative"},"y2":{"field":"lo"}}},{"data":{"name":"mid"},"mark":{"type":"rule","color":"#0072BD","strokeWidth":1.5},"encoding":{"x":{"field":"t","type":"quantitative"},"y":{"field":"hi","type":"quantitative"},"y2":{"field":"lo"}}},{"data":{"name":"second"},"mark":{"type":"rule","color":"#0072BD","strokeWidth":1.5},"encoding":{"x":{"field":"t","type":"quantitative"},"y":{"field":"hi","type":"quantitative"},"y2":{"field":"lo"}}},{"data":{"name":"beats"},"mark":{"type":"rule","color":"#0072BD","strokeWidth":1.4},"encoding":{"x":{"field":"t","type":"quantitative"},"y":{"field":"hi","type":"quantitative"},"y2":{"field":"lo"}}}]}
